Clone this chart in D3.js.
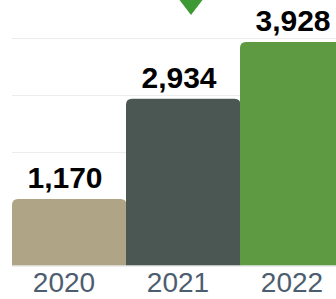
<!DOCTYPE html>
<html>
<head>
<meta charset="utf-8">
<script src="https://cdn.jsdelivr.net/npm/d3@7"></script>
<style>
  body { margin: 0; background: #fff; }
  svg { display: block; }
</style>
</head>
<body>
<div id="chart"></div>
<script>
// chart values
const years = ["2020", "2021", "2022"];
const values = [1170, 2934, 3928];
const colors = ["#b0a486", "#4b5753", "#5e9a42"];
const gridTicks = [1000, 2000, 3000, 4000];

const W = 336, H = 299;
const baseY = 265.5, topY = 38;

const svg = d3.select("#chart").append("svg")
    .attr("width", W)
    .attr("height", H);

const x = d3.scaleBand()
    .domain(years)
    .range([12, 354])
    .padding(0);

const y = d3.scaleLinear()
    .domain([0, 4000])
    .range([baseY, topY]);

// gridlines
svg.append("g")
    .selectAll("line")
    .data(gridTicks)
    .enter()
    .append("line")
      .attr("x1", 12)
      .attr("x2", W)
      .attr("y1", d => Math.round(y(d)) + 0.5)
      .attr("y2", d => Math.round(y(d)) + 0.5)
      .style("stroke", "#ececec")
      .style("stroke-width", 1);

// bars with rounded top corners
function barPath(x0, y0, w, h, r) {
    return `M${x0},${y0 + h} V${y0 + r} Q${x0},${y0} ${x0 + r},${y0} H${x0 + w - r} Q${x0 + w},${y0} ${x0 + w},${y0 + r} V${y0 + h} Z`;
}

svg.append("g")
    .selectAll("path")
    .data(values)
    .enter()
    .append("path")
      .attr("d", (d, i) => barPath(x(years[i]), y(d), x.bandwidth() + 0.5, baseY - y(d), 6))
      .style("fill", (d, i) => colors[i]);

// baseline
svg.append("line")
    .attr("x1", 12)
    .attr("x2", W)
    .attr("y1", baseY + 0.5)
    .attr("y2", baseY + 0.5)
    .style("stroke", "#dcdcdc");

// value labels
svg.append("g")
    .selectAll("text")
    .data(values)
    .enter()
    .append("text")
      .attr("x", (d, i) => x(years[i]) + x.bandwidth() / 2 - 4)
      .attr("y", d => y(d) - 11)
      .attr("text-anchor", "middle")
      .style("font-family", "'Liberation Sans', Arial, sans-serif")
      .style("font-weight", "bold")
      .style("font-size", "30px")
      .style("fill", "#000")
      .text(d => d3.format(",")(d));

// year labels
svg.append("g")
    .selectAll("text")
    .data(years)
    .enter()
    .append("text")
      .attr("x", d => x(d) + x.bandwidth() / 2 - 5)
      .attr("y", 292)
      .attr("text-anchor", "middle")
      .style("font-family", "'Liberation Sans', Arial, sans-serif")
      .style("font-size", "28px")
      .style("fill", "#4d5d70")
      .text(d => d);

// green marker triangle above 2021
const mx = x("2021") + x.bandwidth() / 2 + 8;
svg.append("path")
    .attr("d", `M${mx - 13},-2 L${mx + 13},-2 L${mx},15 Z`)
    .style("fill", "#3d9a32");
</script>
</body>
</html>
